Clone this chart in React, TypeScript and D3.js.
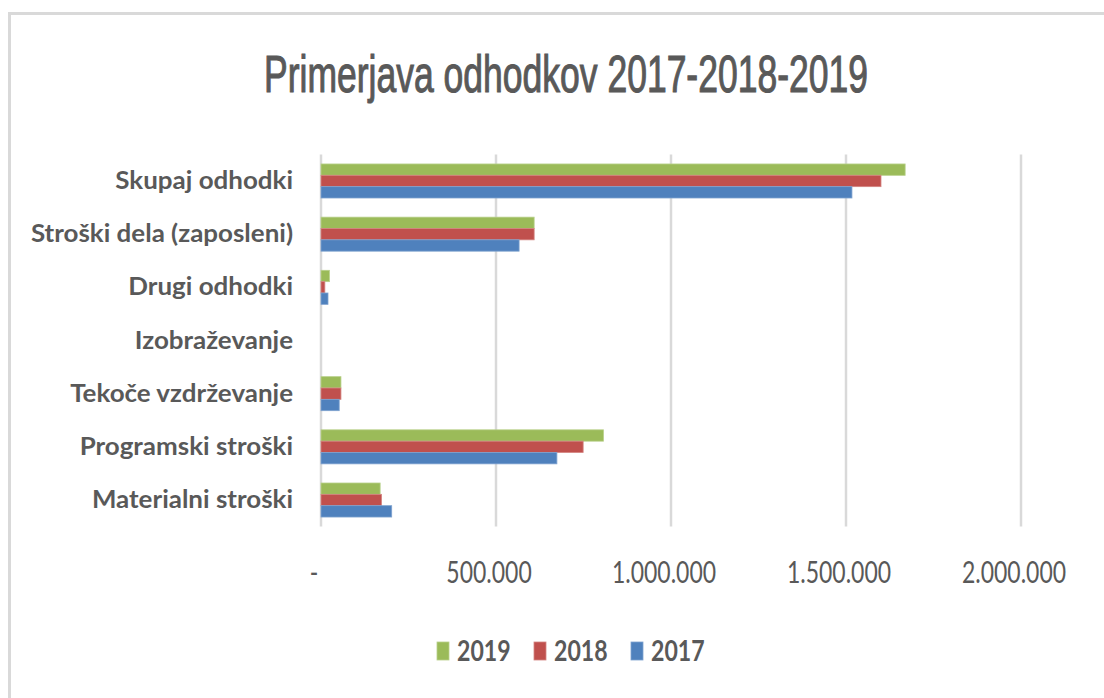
import React from "react";
import * as d3 from "d3";

const categories = [
  "Skupaj odhodki",
  "Stroški dela (zaposleni)",
  "Drugi odhodki",
  "Izobraževanje",
  "Tekoče vzdrževanje",
  "Programski stroški",
  "Materialni stroški",
];
const series = ["2019", "2018", "2017"];
const values2019 = [1669000, 609000, 24000, 0, 57000, 807000, 169000];
const values2018 = [1600000, 609000, 11000, 0, 57000, 749000, 173000];
const values2017 = [1517000, 566000, 20000, 0, 52000, 674000, 202000];
const xTicks = [0, 500000, 1000000, 1500000, 2000000];
const colors = ["#9BBB59", "#C0504D", "#4F81BD"];
const strokeColors = ["#B8D08A", "#D48582", "#7EA2CF"];
const title = "Primerjava odhodkov 2017-2018-2019";

const W = 1104;
const H = 698;
const plot = { left: 321, right: 1021, top: 154.4, bottom: 526.6 };
const textColor = "#595959";

const locale = d3.formatLocale({ decimal: ",", thousands: ".", grouping: [3], currency: ["", ""] });
const fmt = locale.format(",");
const tickFormat = (v: number) => (v === 0 ? "-" : fmt(v));

function SText(props: {
  x: number; y: number; sx: number; sy: number; anchor: string; size: number;
  weight?: string; family: string; children: React.ReactNode;
}) {
  const { x, y, sx, sy, anchor, size, weight, family, children } = props;
  return (
    <text
      transform={`translate(${x},${y}) scale(${sx},${sy})`}
      textAnchor={anchor as any}
      fontSize={size}
      fontWeight={weight || "normal"}
      fontFamily={family}
      fill={textColor}
    >
      {children}
    </text>
  );
}

export default function App() {
  const data = [values2019, values2018, values2017];
  const x = d3.scaleLinear().domain([0, 2000000]).range([plot.left, plot.right]);
  const y = d3
    .scaleBand<string>()
    .domain(categories)
    .range([plot.top, plot.bottom])
    .paddingInner(0.36)
    .paddingOuter(0.18);
  const ySub = d3.scaleBand<string>().domain(series).range([0, y.bandwidth()]);

  return (
    <svg width={W} height={H} style={{ position: "absolute", left: 0, top: 0, background: "#fff" }}>
      <rect x={9.5} y={13.5} width={1200} height={1000} fill="#fff" stroke="#D9D9D9" strokeWidth={3} />
      <text
        x={566}
        y={92}
        textAnchor="middle"
        fontSize={52}
        fontFamily="'Liberation Sans Narrow', 'Liberation Sans', Arial, sans-serif"
        fill={textColor}
        stroke={textColor}
        strokeWidth={1.1}
        textLength={604}
        lengthAdjust="spacingAndGlyphs"
      >
        {title}
      </text>
      {xTicks.map((t) => (
        <line key={"g" + t} x1={x(t)} x2={x(t)} y1={plot.top} y2={plot.bottom} stroke="#D9D9D9" strokeWidth={2.5} />
      ))}
      {categories.map((c, i) => (
        <g key={c}>
          {series.map((s, j) => {
            const v = data[j][i];
            const w = x(v) - x(0);
            if (w <= 0) return null;
            return (
              <rect
                key={s}
                x={x(0)}
                y={(y(c) as number) + (ySub(s) as number)}
                width={w}
                height={ySub.bandwidth()}
                fill={colors[j]}
                stroke={strokeColors[j]}
                strokeWidth={0.8}
              />
            );
          })}
          <SText
            x={293}
            y={(y(c) as number) + y.bandwidth() / 2 + 8}
            sx={1.18}
            sy={1.1}
            anchor="end"
            size={22}
            weight="bold"
            family="Lato, 'Open Sans', sans-serif"
          >
            {c}
          </SText>
        </g>
      ))}
      {xTicks.map((t) => (
        <SText
          key={"t" + t}
          x={x(t) - 7}
          y={583}
          sx={1.0}
          sy={1.33}
          anchor="middle"
          size={23}
          family="Lato, 'Open Sans', sans-serif"
        >
          {tickFormat(t)}
        </SText>
      ))}
      {series.map((s, j) => {
        const lx = 437 + j * 97;
        return (
          <g key={"l" + s}>
            <rect x={lx} y={642} width={12} height={18} fill={colors[j]} stroke={strokeColors[j]} strokeWidth={0.8} />
            <SText x={lx + 20} y={661} sx={1.05} sy={1.3} anchor="start" size={22} weight="bold" family="Lato, 'Open Sans', sans-serif">
              {s}
            </SText>
          </g>
        );
      })}
    </svg>
  );
}
